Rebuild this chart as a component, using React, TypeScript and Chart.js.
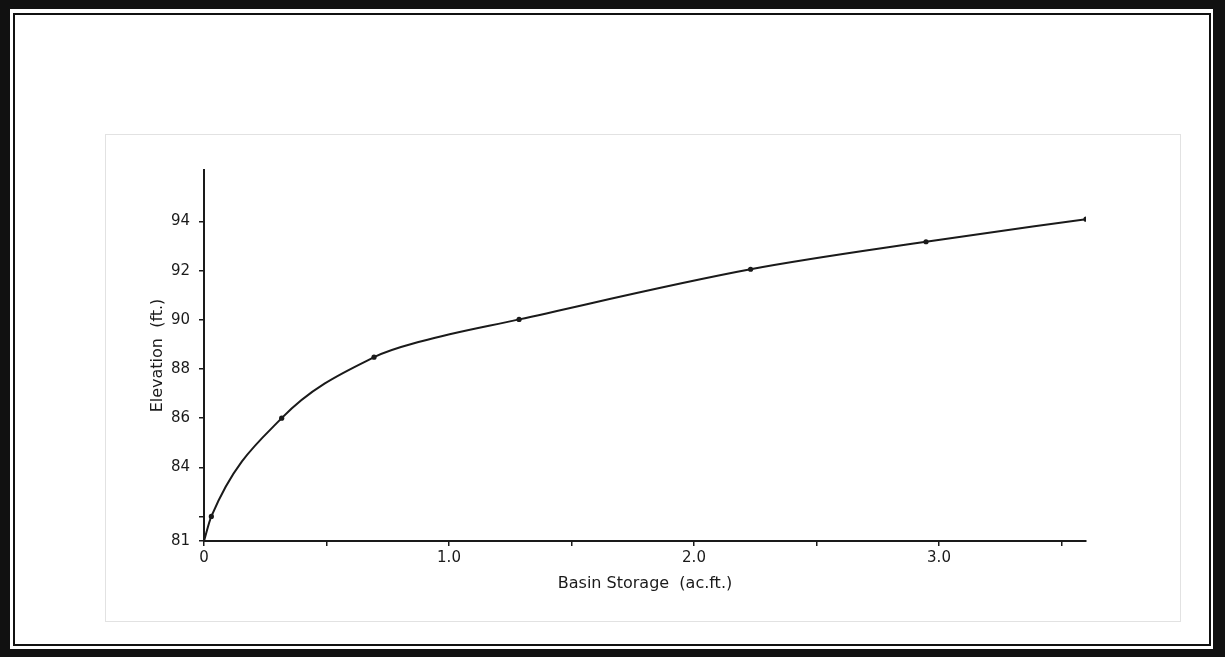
import React, { useEffect, useRef } from "react";
import { Chart, registerables } from "chart.js";

Chart.register(...registerables);

const storageAcFt = [0, 0.03, 0.317, 0.694, 0.888, 1.286, 2.231, 2.947, 3.6];
const elevationFt = [81, 82, 86, 88.48, 89.13, 90.02, 92.06, 93.18, 94.1];
const xTickValues = [0, 0.5, 1, 1.5, 2, 2.5, 3, 3.5];
const xTickLabels = ["0", "", "1.0", "", "2.0", "", "3.0", ""];
const yTickValues = [81, 82, 84, 86, 88, 90, 92, 94];
const yTickLabels = ["81", "", "84", "86", "88", "90", "92", "94"];

const INK = "#1a1a1a";
const FONT = "'DejaVu Sans', sans-serif";

export default function App() {
  const canvasRef = useRef<HTMLCanvasElement | null>(null);

  useEffect(() => {
    const canvas = canvasRef.current;
    if (!canvas) return;
    const chart = new Chart(canvas, {
      type: "line",
      data: {
        datasets: [
          {
            data: storageAcFt.map((x, i) => ({ x, y: elevationFt[i] })),
            borderColor: INK,
            borderWidth: 2,
            pointRadius: storageAcFt.map((_, i) => (i === 0 || i === 4 ? 0 : 2.6)),
            pointBackgroundColor: INK,
            pointBorderColor: INK,
            pointBorderWidth: 0,
            cubicInterpolationMode: "monotone",
            fill: false,
          },
        ],
      },
      options: {
        animation: false,
        responsive: false,
        devicePixelRatio: 1,
        layout: { padding: { left: 148, top: 170, right: 139, bottom: 64 } },
        plugins: { legend: { display: false }, tooltip: { enabled: false } },
        scales: {
          x: {
            type: "linear",
            min: 0,
            max: 3.6,
            afterBuildTicks: (scale: any) => {
              scale.ticks = xTickValues.map((v) => ({ value: v }));
            },
            afterFit: (scale: any) => {
              scale.height = 52;
            },
            ticks: {
              autoSkip: false,
              maxRotation: 0,
              padding: 3,
              color: INK,
              font: { family: FONT, size: 15 },
              callback: (value: any) => {
                const i = xTickValues.indexOf(Number(value));
                return i >= 0 ? xTickLabels[i] : "";
              },
            },
            grid: {
              drawOnChartArea: false,
              drawTicks: true,
              tickLength: 5,
              color: INK,
              lineWidth: 1.5,
            },
            border: { color: INK, width: 2 },
            title: {
              display: true,
              text: "Basin Storage  (ac.ft.)",
              color: INK,
              font: { family: FONT, size: 16 },
              padding: 0,
            },
          },
          y: {
            type: "linear",
            min: 81,
            max: 96.1,
            afterBuildTicks: (scale: any) => {
              scale.ticks = yTickValues.map((v) => ({ value: v }));
            },
            afterFit: (scale: any) => {
              scale.width = 56;
            },
            ticks: {
              autoSkip: false,
              padding: 9,
              color: INK,
              font: { family: FONT, size: 15 },
              callback: (value: any) => {
                const i = yTickValues.indexOf(Number(value));
                return i >= 0 ? yTickLabels[i] : "";
              },
            },
            grid: {
              drawOnChartArea: false,
              drawTicks: true,
              tickLength: 5,
              color: INK,
              lineWidth: 1.5,
            },
            border: { color: INK, width: 2 },
            title: {
              display: true,
              text: "Elevation  (ft.)",
              color: INK,
              font: { family: FONT, size: 16 },
              padding: 0,
            },
          },
        },
      },
    });
    return () => chart.destroy();
  }, []);

  return (
    <div
      style={{
        position: "fixed",
        left: 0,
        top: 0,
        width: 1225,
        height: 657,
        background: "#fff",
        overflow: "hidden",
      }}
    >
      <div
        style={{
          position: "absolute",
          left: 0,
          top: 0,
          width: 1225,
          height: 657,
          boxSizing: "border-box",
          borderStyle: "solid",
          borderColor: "#111",
          borderWidth: "9px 12px 8px 10px",
        }}
      />
      <div
        style={{
          position: "absolute",
          left: 13,
          top: 13,
          width: 1198,
          height: 633,
          boxSizing: "border-box",
          border: "2px solid #111",
        }}
      />
      <div
        style={{
          position: "absolute",
          left: 105,
          top: 134,
          width: 1076,
          height: 488,
          boxSizing: "border-box",
          border: "1px solid #e2e2e2",
        }}
      />
      <canvas
        ref={canvasRef}
        width={1225}
        height={657}
        style={{ position: "absolute", left: 0, top: 0, width: 1225, height: 657 }}
      />
    </div>
  );
}
